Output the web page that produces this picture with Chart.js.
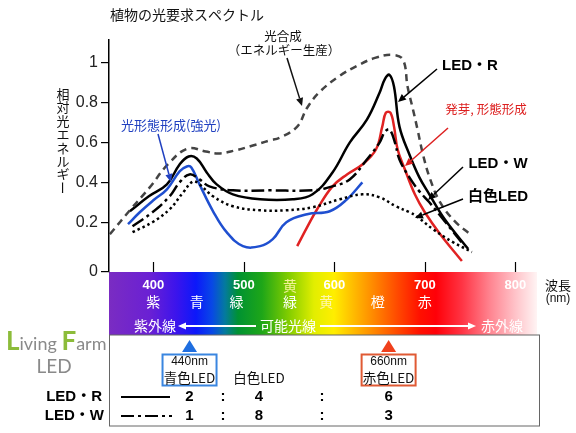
<!DOCTYPE html>
<html><head><meta charset="utf-8">
<script src="https://cdn.jsdelivr.net/npm/chart.js@4.4.1/dist/chart.umd.min.js"></script>
<style>html,body{margin:0;padding:0;background:#fff;}canvas{display:block}</style>
</head><body>
<canvas id="c" width="576" height="433"></canvas>
<script>
// ---- data (wavelength nm, relative energy) ----
const photoNm  = [352,375,396,416,438,458,472,490,510,528,540,559,570,584,606,625,645,665,676,681,687,692,698,706,717,733,750];
const photoVal = [0.14,0.265,0.375,0.49,0.57,0.555,0.545,0.56,0.585,0.61,0.625,0.68,0.775,0.855,0.935,0.985,1.025,1.04,1.015,0.88,0.765,0.665,0.54,0.415,0.30,0.205,0.14];

const ledRNm  = [374,395,415,429,439,448,459,470,488,518,554,576,598,617,636,650,656,661,666,672,683,694,705,722,748];
const ledRVal = [0.255,0.33,0.39,0.49,0.53,0.52,0.45,0.39,0.34,0.315,0.315,0.34,0.45,0.60,0.715,0.85,0.92,0.94,0.88,0.68,0.54,0.425,0.34,0.215,0.065];

const blueNm  = [372,385,400,415,429,437,442,451,466,481,499,518,532,547,570,595,614,631];
const blueVal = [0.19,0.25,0.31,0.365,0.455,0.48,0.475,0.39,0.255,0.15,0.08,0.08,0.115,0.20,0.24,0.255,0.315,0.40];

const ledWNm  = [377,399,418,429,440,451,462,488,529,576,598,617,636,650,656,661,667,672,683,694,705,722,744];
const ledWVal = [0.18,0.25,0.33,0.40,0.44,0.415,0.38,0.36,0.36,0.36,0.38,0.415,0.515,0.60,0.655,0.665,0.60,0.515,0.425,0.355,0.30,0.205,0.08];

const redNm  = [559,570,581,598,614,631,646,653,657,662,666,670,678,689,700,717,741];
const redVal = [0.08,0.175,0.265,0.38,0.44,0.49,0.565,0.68,0.75,0.75,0.68,0.565,0.465,0.34,0.25,0.14,0.005];

const whiteNm  = [377,399,418,433,444,451,466,488,518,547,576,606,631,650,668,683,691,709,731,752];
const whiteVal = [0.15,0.20,0.265,0.35,0.405,0.39,0.33,0.28,0.26,0.26,0.275,0.315,0.34,0.325,0.28,0.25,0.23,0.165,0.10,0.05];

const xTicks = [400,500,600,700,800];
const yTicks = [0,0.2,0.4,0.6,0.8,1];
const yTickLabels = ['0','0.2','0.4','0.6','0.8','1'];

const colorWords = [['紫',400],['青',448],['緑',492],['緑',551],['黄',591],['橙',648],['赤',700]];
const blueLedNm = 440, redLedNm = 660;
const ratioR = ['2','4','6'];
const ratioW = ['1','8','3'];

// ---- helpers ----
const F = '"Liberation Sans", Arial, "Noto Sans CJK JP", sans-serif';
const FJ = '"Noto Sans CJK JP", "Liberation Sans", sans-serif';
const pts = (xs, ys) => xs.map((v, i) => ({x: v, y: ys[i]}));

function txt(ctx, s, x, y, font, color, align) {
  ctx.save();
  ctx.font = font; ctx.fillStyle = color;
  ctx.textAlign = align || 'center'; ctx.textBaseline = 'middle';
  ctx.fillText(s, x, y);
  ctx.restore();
}
function arrow(ctx, x1, y1, x2, y2, color, lw, head) {
  head = head || 7;
  ctx.save();
  ctx.strokeStyle = color; ctx.fillStyle = color; ctx.lineWidth = lw || 1.4;
  const ang = Math.atan2(y2 - y1, x2 - x1);
  const bx = x2 - Math.cos(ang) * head, by = y2 - Math.sin(ang) * head;
  ctx.beginPath(); ctx.moveTo(x1, y1); ctx.lineTo(bx, by); ctx.stroke();
  ctx.beginPath();
  ctx.moveTo(x2, y2);
  ctx.lineTo(bx + Math.sin(ang) * head * 0.45, by - Math.cos(ang) * head * 0.45);
  ctx.lineTo(bx - Math.sin(ang) * head * 0.45, by + Math.cos(ang) * head * 0.45);
  ctx.closePath(); ctx.fill();
  ctx.restore();
}

const decor = {
  id: 'decor',
  beforeDraw(chart) {
    const {ctx, chartArea: a} = chart;
    const top = a.bottom, bot = a.bottom + 63;
    const stops = [[109,'#7a2cc2'],[150,'#6a20d4'],[176,'#3c14ec'],[196,'#0c18fa'],[212,'#0848e6'],[225,'#047a9e'],[238,'#009232'],[262,'#1ea618'],[288,'#80cc00'],[314,'#e2ee00'],[334,'#ffee00'],[350,'#ffc400'],[372,'#ff8c00'],[398,'#ff4800'],[420,'#ff1000'],[436,'#ff0008'],[462,'#ff3444'],[490,'#ff8490'],[515,'#ffc2c8'],[537,'#fff4f4']];
    const g = ctx.createLinearGradient(a.left, 0, a.right, 0);
    stops.forEach(([p, c]) => g.addColorStop(Math.min(1, Math.max(0, (p - a.left) / (a.right - a.left))), c));
    ctx.save();
    ctx.fillStyle = g;
    ctx.fillRect(a.left, top, a.right - a.left, bot - top);
    ctx.strokeStyle = '#666'; ctx.lineWidth = 1;
    ctx.strokeRect(a.left + 0.5, bot, a.right + 2 - a.left, 426 - bot);
    ctx.restore();
  },
  afterDraw(chart) {
    const {ctx, chartArea: a} = chart;
    const xs = chart.scales.x;
    const top = a.bottom;
    ctx.save(); ctx.strokeStyle = '#000'; ctx.lineWidth = 1.2;
    xTicks.forEach(v => { const px = Math.round(xs.getPixelForValue(v)) + 0.5; ctx.beginPath(); ctx.moveTo(px, top - 10); ctx.lineTo(px, top); ctx.stroke(); });
    ctx.restore();
    colorWords.forEach(([w, nm], i) => {
      const col = (i === 4) ? '#fff6a8' : '#ffffff';
      txt(ctx, w, xs.getPixelForValue(nm), top + 30, '14px ' + FJ, col);
    });
    txt(ctx, '黄', xs.getPixelForValue(551), top + 14, '14px ' + FJ, '#f2f29a');
    txt(ctx, '紫外線', 155, top + 54, '14px ' + FJ, '#fff');
    arrow(ctx, 256, top + 54, 178, top + 54, '#fff', 2, 8);
    txt(ctx, '可能光線', 288, top + 54, '14px ' + FJ, '#fff');
    arrow(ctx, 320, top + 54, 476, top + 54, '#fff', 2, 8);
    txt(ctx, '赤外線', 502, top + 54, '14px ' + FJ, '#fff');
    txt(ctx, '波長', 558, 285, '13px ' + FJ, '#111');
    txt(ctx, '(nm)', 558, 299, '12px ' + F, '#111');
    txt(ctx, '植物の光要求スペクトル', 110, 15, '14px ' + FJ, '#111', 'left');
    const yt = '相対光エネルギー';
    [...yt].forEach((ch, i) => {
      const cy = 94 + i * 13.4;
      if (ch === 'ー') {
        ctx.save(); ctx.translate(63, cy); ctx.rotate(Math.PI / 2);
        txt(ctx, ch, 0, 0, '13px ' + FJ, '#111'); ctx.restore();
      } else txt(ctx, ch, 63, cy, '13px ' + FJ, '#111');
    });
    txt(ctx, '光合成', 283, 36, '12.5px ' + FJ, '#111');
    txt(ctx, '（エネルギー生産）', 284, 50, '12.5px ' + FJ, '#111');
    arrow(ctx, 287, 58, 302, 106, '#111', 1.5, 8);
    txt(ctx, '光形態形成(強光)', 121, 125, '13px ' + FJ, '#2040c0', 'left');
    arrow(ctx, 158, 134, 171, 182, '#2040c0', 1.5, 8);
    txt(ctx, 'LED・R', 470, 66, 'bold 15px ' + F, '#000');
    arrow(ctx, 437, 69, 398, 102, '#000', 1.5, 8);
    txt(ctx, '発芽, 形態形成', 486, 109, '12.5px ' + FJ, '#dd2020');
    arrow(ctx, 448, 128, 405, 166, '#dd2020', 1.5, 8);
    txt(ctx, 'LED・W', 498, 164, 'bold 15px ' + F, '#000');
    arrow(ctx, 463, 167, 428, 200, '#000', 1.5, 8);
    txt(ctx, '白色LED', 498, 197, 'bold 15px ' + F, '#000');
    arrow(ctx, 463, 199, 415, 218, '#000', 1.5, 8);
    const tri = (nm, col) => {
      const px = xs.getPixelForValue(nm);
      ctx.save(); ctx.fillStyle = col; ctx.beginPath();
      ctx.moveTo(px, 340); ctx.lineTo(px + 7.5, 352); ctx.lineTo(px - 7.5, 352); ctx.closePath(); ctx.fill(); ctx.restore();
      return px;
    };
    const bx = tri(blueLedNm, '#1e6ee0');
    const rx = tri(redLedNm, '#f0401c');
    const ledBox = (cx, col, l1, l2) => {
      ctx.save(); ctx.strokeStyle = col; ctx.lineWidth = 2;
      ctx.strokeRect(cx - 27, 354.5, 54, 31); ctx.restore();
      txt(ctx, l1, cx, 362, '12px "Liberation Sans Narrow", ' + F, '#111');
      txt(ctx, l2, cx, 378, '13.5px ' + FJ, '#111');
    };
    ledBox(bx, '#3a86e0', blueLedNm + 'nm', '青色LED');
    ledBox(rx, '#e05a34', redLedNm + 'nm', '赤色LED');
    txt(ctx, '白色LED', 259, 378, '13.5px ' + FJ, '#111');
    const rowY = [397, 416];
    txt(ctx, 'LED・R', 102, rowY[0], 'bold 15px ' + F, '#000', 'right');
    txt(ctx, 'LED・W', 104, rowY[1], 'bold 15px ' + F, '#000', 'right');
    ctx.save(); ctx.strokeStyle = '#000'; ctx.lineWidth = 2.2;
    ctx.beginPath(); ctx.moveTo(121, rowY[0]); ctx.lineTo(170, rowY[0]); ctx.stroke();
    ctx.setLineDash([13, 4, 3, 4]);
    ctx.beginPath(); ctx.moveTo(121, rowY[1]); ctx.lineTo(172, rowY[1]); ctx.stroke();
    ctx.restore();
    const cols = [bx, 259, rx];
    [ratioR, ratioW].forEach((r, j) => {
      r.forEach((v, i) => txt(ctx, v, cols[i], rowY[j], 'bold 15px ' + F, '#000'));
      txt(ctx, ':', 223, rowY[j], 'bold 15px ' + F, '#000');
      txt(ctx, ':', 322, rowY[j], 'bold 15px ' + F, '#000');
    });
    ctx.save(); ctx.textBaseline = 'alphabetic';
    let lx = 6; const ly = 350;
    const part = (s, font, col) => { ctx.font = font + ' Lato, "Open Sans", sans-serif'; ctx.fillStyle = col; ctx.fillText(s, lx, ly); lx += ctx.measureText(s).width; };
    part('L', 'bold 26px', '#8cbc3a'); part('iving ', '18px', '#8a8a8a'); part('F', 'bold 26px', '#8cbc3a'); part('arm', '18px', '#8a8a8a');
    ctx.font = '19px Lato, "Open Sans", sans-serif'; ctx.fillStyle = '#8a8a8a'; ctx.textAlign = 'center';
    ctx.fillText('LED', 54, 373);
    ctx.restore();
  }
};

const common = {pointRadius: 0, borderWidth: 2.5, fill: false, tension: 0.4, borderCapStyle: 'butt'};

new Chart(document.getElementById('c'), {
  type: 'line',
  data: {
    datasets: [
      {...common, label: '光合成', data: pts(photoNm, photoVal), borderColor: '#444', borderDash: [7, 5]},
      {...common, label: '白色LED', data: pts(whiteNm, whiteVal), borderColor: '#000', borderDash: [2.5, 3]},
      {...common, label: 'LED・W', data: pts(ledWNm, ledWVal), borderColor: '#000', borderDash: [13, 4, 3, 4]},
      {...common, label: '光形態形成(強光)', data: pts(blueNm, blueVal), borderColor: '#1f4fd0'},
      {...common, label: '発芽, 形態形成', data: pts(redNm, redVal), borderColor: '#e02222'},
      {...common, label: 'LED・R', data: pts(ledRNm, ledRVal), borderColor: '#000'}
    ]
  },
  options: {
    responsive: false, animation: false, devicePixelRatio: 1,
    layout: {padding: {left: 0, right: 39, top: 40, bottom: 0}},
    plugins: {legend: {display: false}, tooltip: {enabled: false}, title: {display: false}},
    scales: {
      x: {
        type: 'linear', min: 351, max: 824,
        afterBuildTicks: s => { s.ticks = xTicks.map(v => ({value: v})); },
        afterFit: s => { s.height = 161; },
        grid: {display: false}, border: {display: false},
        ticks: {color: '#fff', font: {size: 13, weight: 'bold', family: F}, padding: -2, autoSkip: false, maxRotation: 0}
      },
      y: {
        type: 'linear', min: -0.05, max: 1.115,
        afterBuildTicks: s => { s.ticks = yTicks.map(v => ({value: v === 0 ? -0.05 : v})); },
        afterFit: s => { s.width = 109; },
        grid: {drawOnChartArea: false, drawTicks: true, tickLength: 8, color: '#000', lineWidth: 1.2},
        border: {display: true, color: '#000', width: 1.5},
        ticks: {callback: (v, i) => yTickLabels[i], color: '#222', font: {size: 16, family: F}, padding: 3}
      }
    }
  },
  plugins: [decor]
});
</script>
</body></html>
